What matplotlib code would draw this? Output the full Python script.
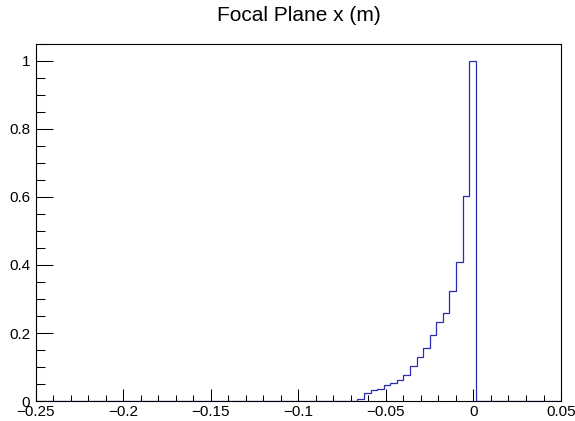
import numpy as np
import matplotlib
matplotlib.use("Agg")
import matplotlib.pyplot as plt
from matplotlib.ticker import MultipleLocator, FuncFormatter

# histogram binning (80 bins over the x range)
x_lo, x_hi, n_bins = -0.25, 0.05, 80
first_bin = 49
# normalised bin contents, bins 49..66, all others empty
contents = [0.006, 0.025, 0.031, 0.035, 0.047, 0.054, 0.063, 0.076, 0.104,
            0.128, 0.157, 0.194, 0.231, 0.260, 0.325, 0.410, 0.604, 1.0]
title = "Focal Plane x (m)"

edges = np.linspace(x_lo, x_hi, n_bins + 1)
counts = np.zeros(n_bins)
counts[first_bin:first_bin + len(contents)] = contents

plt.rcParams['font.family'] = ['Liberation Sans', 'DejaVu Sans']

fig = plt.figure(figsize=(5.75, 4.21), dpi=100)
ax = fig.add_axes([0.062, 0.0475, 0.9137, 0.848])

ax.stairs(counts, edges, color='#2b2bb0', linewidth=0.9, baseline=0)

ax.set_xlim(x_lo, x_hi)
ax.set_ylim(0, 1.05)

ax.xaxis.set_major_locator(MultipleLocator(0.05))
ax.xaxis.set_minor_locator(MultipleLocator(0.01))
ax.yaxis.set_major_locator(MultipleLocator(0.2))
ax.yaxis.set_minor_locator(MultipleLocator(0.05))

fmt = FuncFormatter(lambda v, p: ("%g" % round(v, 4)).replace("-", "\u2212"))
ax.xaxis.set_major_formatter(fmt)
ax.yaxis.set_major_formatter(fmt)

# tick lengths are in points: px * 0.72
ax.tick_params(axis='x', which='major', direction='in', length=8.6, width=0.75, labelsize=11, pad=3)
ax.tick_params(axis='x', which='minor', direction='in', length=4.3, width=0.75)
ax.tick_params(axis='y', which='major', direction='in', length=12.2, width=0.75, labelsize=11, pad=4)
ax.tick_params(axis='y', which='minor', direction='in', length=6.5, width=0.75)
ax.tick_params(top=False, right=False, which='both')

for s in ax.spines.values():
    s.set_linewidth(0.8)

fig.text(0.52, 0.964, title, ha='center', va='center', fontsize=15)

fig.savefig("out.png", dpi=100)
